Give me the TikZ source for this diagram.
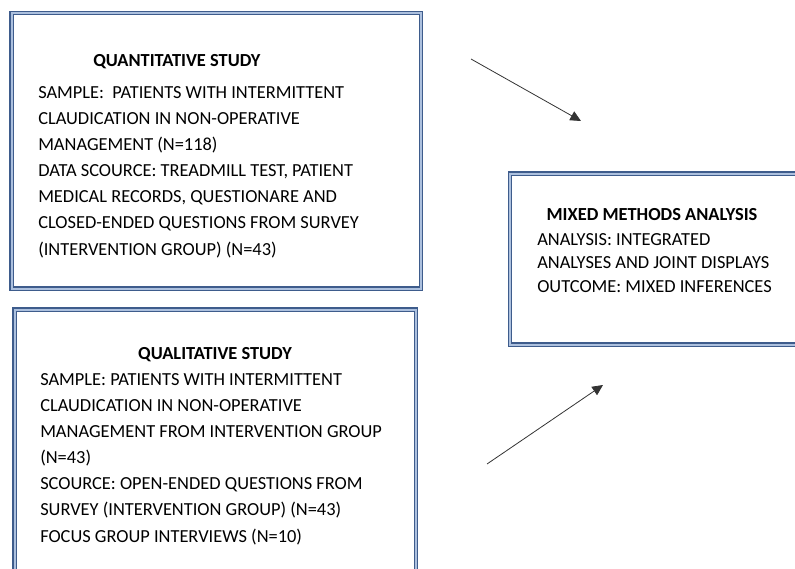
\documentclass[tikz,border=0pt]{standalone}
\usepackage{fontspec}
\setmainfont{Carlito}
\usetikzlibrary{arrows.meta}
\definecolor{edgeblue}{RGB}{62,92,140}
\definecolor{gapblue}{RGB}{172,192,222}

\begin{document}
\begin{tikzpicture}[x=0.75pt,y=-0.75pt,
  studybox/.style={rectangle,draw=edgeblue,double=gapblue,double distance=1.4pt,line width=1pt,inner sep=0pt,anchor=north west},
  heading/.style={font=\fontsize{13.8}{19.6}\selectfont\bfseries,inner sep=0pt},
  body/.style={font=\fontsize{13.8}{19.6}\selectfont,align=left,inner sep=0pt,anchor=base west},
  flow/.style={-{Triangle[length=8pt,width=7.5pt]},line width=0.6pt,draw=black!80}]
  \useasboundingbox (0,0) rectangle (795,568);
  \clip (0,0) rectangle (795,568);

  % boxes
  \node[studybox,minimum width=307.1pt,minimum height=206.6pt] (quant) at (11,12.5) {};
  \node[studybox,minimum width=301.1pt,minimum height=233pt] (qual) at (14,309) {};
  \node[studybox,minimum width=240.4pt,minimum height=128.3pt] (mixed) at (509.5,173) {};

  % texts (base = last line)
  \node[heading,anchor=base west] (quanthead) at (93,66) {QUANTITATIVE STUDY};
  \node[body] (quanttext) at (38,255) {SAMPLE:\ \ PATIENTS WITH INTERMITTENT\\
    CLAUDICATION IN NON-OPERATIVE\\
    MANAGEMENT (N=118)\\
    DATA SCOURCE: TREADMILL TEST, PATIENT\\
    MEDICAL RECORDS, QUESTIONARE AND\\
    CLOSED-ENDED QUESTIONS FROM SURVEY\\
    (INTERVENTION GROUP) (N=43)};

  \node[heading,anchor=base] (qualhead) at (215,359) {QUALITATIVE STUDY};
  \node[body] (qualtext) at (40,542) {SAMPLE: PATIENTS WITH INTERMITTENT\\
    CLAUDICATION IN NON-OPERATIVE\\
    MANAGEMENT FROM INTERVENTION GROUP\\
    (N=43)\\
    SCOURCE: OPEN-ENDED QUESTIONS FROM\\
    SURVEY (INTERVENTION GROUP) (N=43)\\
    FOCUS GROUP INTERVIEWS (N=10)};

  \node[heading,anchor=base] (mixedhead) at (652,220) {MIXED METHODS ANALYSIS};
  \node[body,font=\fontsize{13.8}{17.6}\selectfont] (mixedtext) at (537,292) {ANALYSIS: INTEGRATED\\
    ANALYSES AND JOINT DISPLAYS\\
    OUTCOME: MIXED INFERENCES};

  % arrows
  \coordinate (quantend) at (471,59);
  \coordinate (mixedin1) at (581,121);
  \coordinate (qualend) at (487,464);
  \coordinate (mixedin2) at (603,385);
  \draw[flow] (quantend) -- (mixedin1);
  \draw[flow] (qualend) -- (mixedin2);
\end{tikzpicture}
\end{document}
